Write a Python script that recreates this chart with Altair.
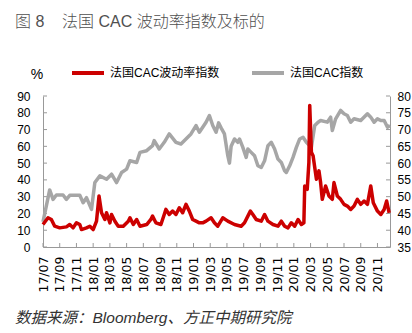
import altair as alt
import pandas as pd

# ---- data (x = months since 2017-07) ----
red_name = "法国CAC波动率指数"
grey_name = "法国CAC指数"

red_t = [0.0, 0.6, 1.0, 1.4, 2.0, 2.8, 3.2, 3.6, 4.0, 4.4, 4.6, 5.2, 5.6, 6.0, 6.4, 6.7, 7.0,
         7.4, 7.6, 8.0, 8.2, 8.6, 9.0, 9.6, 10.2, 10.4, 10.8, 11.2, 11.6, 12.4, 12.9, 13.1, 13.5,
         14.1, 14.5, 14.7, 15.1, 15.5, 15.9, 16.3, 16.7, 17.1, 17.5, 17.9, 18.3, 18.7, 19.1, 19.5,
         20.1, 20.5, 20.9, 21.5, 22.1, 22.9, 23.7, 24.1, 24.5, 24.8, 25.1, 25.5, 26.1, 26.5, 26.9,
         27.5, 28.1, 28.5, 28.9, 29.3, 29.7, 30.1, 30.5, 30.9, 31.2, 31.3, 31.6, 31.8, 31.9, 32.1,
         32.3, 32.7, 33.0, 33.2, 33.4, 33.8, 34.2, 34.6, 34.8, 35.2, 35.6, 36.0, 36.4, 36.8, 37.2,
         37.6, 38.0, 38.4, 38.8, 39.2, 39.5, 40.0, 40.4, 40.8, 41.1, 41.4]
red_v = [13.4, 17.4, 16.4, 12.4, 11.4, 12.0, 13.4, 11.4, 14.4, 13.4, 10.4, 11.4, 12.4, 10.4, 15.4,
         30.4, 20.4, 16.4, 20.4, 14.4, 19.4, 15.4, 12.4, 12.4, 15.4, 17.4, 13.4, 16.4, 12.4, 13.4,
         16.4, 18.4, 14.4, 13.4, 19.4, 22.4, 19.4, 21.4, 19.4, 23.4, 20.4, 25.4, 21.4, 16.4, 15.4,
         14.4, 14.4, 15.4, 17.4, 14.4, 12.4, 17.4, 15.4, 13.4, 12.4, 14.4, 18.4, 21.4, 19.4, 16.4,
         15.4, 19.4, 15.4, 13.4, 12.4, 15.4, 12.4, 11.4, 14.4, 12.4, 16.4, 13.4, 14.4, 36.4, 34.4,
         50.4, 84.4, 56.4, 54.4, 40.4, 45.4, 38.4, 28.4, 36.4, 30.4, 28.4, 38.4, 30.4, 28.4, 25.4,
         24.4, 22.4, 24.4, 28.4, 25.4, 27.4, 25.4, 36.4, 26.4, 21.4, 19.4, 22.4, 27.4, 20.4]

grey_t = [0.0, 0.8, 1.2, 1.6, 2.4, 2.8, 3.2, 4.4, 4.8, 5.2, 5.8, 6.2, 6.8, 7.6, 8.2, 8.8, 9.4,
          10.0, 10.4, 11.2, 11.6, 12.4, 13.1, 13.3, 13.9, 14.5, 15.1, 15.9, 16.5, 17.1, 17.7,
          18.3, 18.7, 19.5, 19.9, 20.3, 20.7, 21.0, 21.3, 21.7, 22.1, 22.3, 22.5, 22.9, 23.3,
          23.5, 23.9, 24.3, 24.5, 24.9, 25.3, 25.7, 26.1, 26.5, 26.9, 27.3, 27.7, 28.1, 28.5,
          28.9, 29.1, 29.5, 29.9, 30.3, 30.7, 31.1, 31.5, 31.9, 32.1, 32.5, 32.9, 33.2, 34.0,
          34.4, 34.6, 35.0, 35.6, 36.0, 36.4, 36.8, 37.2, 38.0, 38.8, 39.2, 39.6, 40.0, 40.4,
          40.8, 41.2, 41.5]
grey_v = [42.5, 52.0, 49.2, 50.5, 50.5, 49.2, 50.4, 50.4, 48.2, 49.7, 46.2, 54.2, 56.2, 55.2,
          56.7, 54.2, 57.2, 58.2, 60.7, 60.2, 63.2, 63.7, 65.2, 66.7, 64.2, 66.2, 68.7, 66.2,
          65.7, 67.2, 68.7, 71.2, 69.2, 72.2, 74.2, 71.2, 69.2, 72.0, 70.5, 68.7, 62.2, 60.0,
          65.0, 67.2, 66.2, 67.2, 64.7, 61.7, 64.2, 63.2, 62.2, 59.2, 58.7, 60.7, 65.2, 66.2,
          64.2, 61.2, 60.2, 57.7, 57.2, 59.2, 61.7, 64.7, 67.2, 67.7, 66.2, 65.2, 64.7, 71.2,
          72.2, 72.7, 72.2, 73.7, 69.7, 73.2, 75.7, 74.7, 74.2, 72.2, 73.2, 72.7, 74.7, 73.7,
          72.2, 73.2, 72.7, 72.7, 70.7, 71.2]

x_labels = ["17/07", "17/09", "17/11", "18/01", "18/03", "18/05", "18/07", "18/09", "18/11",
            "19/01", "19/03", "19/05", "19/07", "19/09", "19/11", "20/01", "20/03", "20/05",
            "20/07", "20/09", "20/11"]
x_ticks = [2 * i for i in range(len(x_labels))]
left_ticks = [0, 10, 20, 30, 40, 50, 60, 70, 80, 90]
right_ticks = [35, 40, 45, 50, 55, 60, 65, 70, 75, 80]

# ---- styling ----
W, H = 347, 151
FONT = "Liberation Sans, Noto Sans CJK SC"
AXIS_GREY = "#999999"
RED = "#cc0000"
GREY = "#a6a6a6"

red_df = pd.DataFrame({"t": red_t, "v": red_v, "series": red_name})
grey_df = pd.DataFrame({"t": grey_t, "v": grey_v, "series": grey_name})

label_expr = "".join(f"datum.value == {v} ? '{lab}' : " for v, lab in zip(x_ticks, x_labels)) + "''"

x_axis = alt.Axis(
    values=x_ticks, labelExpr=label_expr,
    labelAngle=270, labelFontSize=12.5, labelFont="DejaVu Sans", labelColor="#000000",
    labelPadding=9, ticks=False, tickSize=0, grid=False, domainColor=AXIS_GREY,
    title=None, labelOverlap=False,
)
x_scale = alt.Scale(domain=[0, 41.5], nice=False, zero=False)
x_enc = alt.X("t:Q", scale=x_scale, axis=x_axis)

left_scale = alt.Scale(domain=[0, 90], nice=False, zero=False)
right_scale = alt.Scale(domain=[35, 80], nice=False, zero=False)

color = alt.Color(
    "series:N",
    scale=alt.Scale(domain=[red_name, grey_name], range=[RED, GREY]),
    legend=alt.Legend(
        orient="none", legendX=27, legendY=-41, direction="horizontal", title=None,
        symbolType="stroke", symbolSize=1024, symbolStrokeWidth=4, labelFontSize=12,
        labelFont=FONT, labelColor="#000000", labelOffset=4, columnPadding=24, padding=0,
    ),
)

red_line = alt.Chart(red_df).mark_line(strokeWidth=3.5, strokeJoin="round").encode(
    x=x_enc,
    y=alt.Y("v:Q", scale=left_scale, axis=alt.Axis(
        orient="left", values=left_ticks, ticks=False, tickSize=0, grid=False,
        labelFontSize=12, labelFont=FONT, labelColor="#000000", labelPadding=13,
        domainColor=AXIS_GREY, title=None)),
    color=color,
    order="t:Q",
)

grey_line = alt.Chart(grey_df).mark_line(strokeWidth=3.5, strokeJoin="round").encode(
    x=x_enc,
    y=alt.Y("v:Q", scale=right_scale, axis=alt.Axis(
        orient="right", values=right_ticks, ticks=False, tickSize=0, grid=False,
        labelFontSize=12, labelFont=FONT, labelColor="#000000", labelPadding=7,
        domainColor=AXIS_GREY, title=None)),
    color=color,
    order="t:Q",
)

# inward tick marks
left_tick_rules = alt.Chart(pd.DataFrame({"v": left_ticks})).mark_rule(color=AXIS_GREY).encode(
    y=alt.Y("v:Q", scale=left_scale, axis=None), x=alt.value(0), x2=alt.value(4))
right_tick_rules = alt.Chart(pd.DataFrame({"v": right_ticks})).mark_rule(color=AXIS_GREY).encode(
    y=alt.Y("v:Q", scale=right_scale, axis=None), x=alt.value(W - 4), x2=alt.value(W))
bottom_tick_rules = alt.Chart(pd.DataFrame({"t": x_ticks})).mark_rule(color=AXIS_GREY).encode(
    x=x_enc, y=alt.value(H - 4), y2=alt.value(H))

one = pd.DataFrame({"a": [0]})
title1 = alt.Chart(one).mark_text(text="图  8", font=FONT, fontSize=16, color="#505050",
                                  fontWeight=300, align="left", baseline="middle").encode(
    x=alt.value(-28), y=alt.value(-74))
title2 = alt.Chart(one).mark_text(text="法国 CAC 波动率指数及标的", font=FONT, fontSize=16,
                                  fontWeight=300, color="#505050", align="left",
                                  baseline="middle").encode(
    x=alt.value(19), y=alt.value(-74))
pct = alt.Chart(one).mark_text(text="%", font=FONT, fontSize=14, color="#000000",
                               align="center", baseline="middle").encode(
    x=alt.value(-6), y=alt.value(-21))
footer = alt.Chart(one).mark_text(text="数据来源：Bloomberg、方正中期研究院", font=FONT,
                                  fontSize=15.5, fontStyle="italic", color="#333333",
                                  align="left", baseline="middle").encode(
    x=alt.value(-28), y=alt.value(222))

chart = alt.layer(
    left_tick_rules, right_tick_rules, bottom_tick_rules,
    grey_line, red_line, title1, title2, pct, footer,
).resolve_scale(y="independent").properties(
    width=W, height=H,
    autosize=alt.AutoSizeParams(type="none"),
    padding={"left": 43, "top": 96, "right": 22, "bottom": 86},
).configure_view(stroke=None)

chart.save("out.html", embed_options={"renderer": "svg", "actions": False})
